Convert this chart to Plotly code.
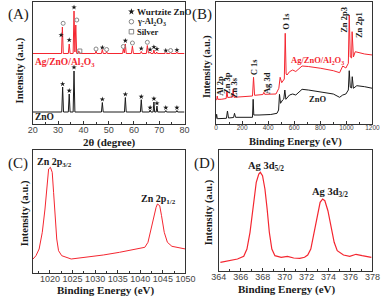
import plotly.graph_objects as go

W, H = 392, 298

# ---------------- Panel A : XRD ----------------
xrd_zno_x = [20, 31.45, 31.8, 32.15, 34.05, 34.4, 34.75, 35.95, 36.3, 36.65, 47.15, 47.5, 47.85,
             56.25, 56.6, 56.95, 62.55, 62.9, 63.25, 66.1, 66.4, 66.7, 67.6, 67.9, 68.2,
             68.8, 69.1, 69.4, 72.3, 72.6, 72.9, 76.7, 77.0, 77.3, 80]
xrd_zno_y = [12, 12, 37, 12, 12, 30, 12, 12, 53, 12, 12, 21.5, 12,
             12, 26.5, 12, 12, 24.3, 12, 12, 14, 12, 12, 22, 12,
             12, 18, 12, 12, 13.5, 12, 12, 13.5, 12, 12]
xrd_ag_x = [20, 31.35, 31.7, 32.05, 34.05, 34.4, 34.75, 35.95, 36.3, 36.65, 37.0, 37.35,
            37.9, 38.2, 38.5, 44.7, 45.0, 45.3, 47.15, 47.5, 47.85, 48.9, 49.2, 49.5,
            55.5, 55.8, 56.2, 56.6, 56.95, 59.0, 59.4, 59.8, 62.55, 62.9, 63.25,
            64.9, 65.3, 65.7, 66.1, 66.4, 66.7, 67.6, 67.9, 68.2, 68.8, 69.0, 69.3,
            72.3, 72.6, 72.9, 74.2, 74.5, 74.8, 76.7, 77.0, 77.3, 80]
xrd_ag_y = [70.5, 70.5, 97, 70.5, 70.5, 80, 70.5, 70.5, 113, 72, 99, 70.5,
            70.5, 73, 70.5, 70.5, 73, 70.5, 70.5, 74.5, 70.5, 70.5, 72.5, 70.5,
            70.5, 75, 71, 80, 70.5, 70.5, 78, 70.5, 70.5, 72.5, 70.5,
            70.5, 78.5, 71, 71, 72, 70.5, 70.5, 74, 70.5, 70.5, 72, 70.5,
            70.5, 71.5, 70.5, 70.5, 71.5, 70.5, 70.5, 72, 70.5, 70.5]
zno_star_x = [31.8, 34.4, 36.3, 47.5, 56.6, 62.9, 66.4, 67.9, 69.1, 72.6, 77.0]
zno_star_y = [40, 33.3, 56.7, 24.7, 29.7, 27.3, 16.3, 25.3, 20.7, 16.3, 16.3]
ag_star_x = [31.2, 34.4, 36.3, 47.5, 56.6, 62.9, 66.4, 67.9, 69.1, 72.6, 77.0]
ag_star_y = [89, 84, 116.7, 76.5, 83.3, 75.5, 74.5, 77, 75, 73.5, 74]
ag_circle_x = [32.0, 37.4, 45.0, 49.2, 55.8, 59.4, 65.3, 74.5]
ag_circle_y = [100.7, 104, 75, 74.5, 77.5, 81, 81.7, 73.5]
ag_square_x = [38.6]
ag_square_y = [73]

# ---------------- Panel B : XPS survey ----------------
b_zno_x = [0, 5, 10, 40, 80, 88, 96, 135, 142, 150, 280, 285, 290, 330, 420,
           468, 480, 487, 495, 511, 520, 528, 536, 564, 588, 612, 660, 708, 804, 900,
           948, 972, 996, 1015, 1022, 1030, 1040, 1045, 1054, 1080, 1140, 1200]
b_zno_y = [5.3, 9.7, 5.3, 5.7, 5.7, 13, 6, 6.5, 10.7, 6.7, 6.7, 24.7, 9, 9, 9.5,
           10.7, 14, 29.7, 20.7, 24, 25, 34, 24.7, 29, 30, 29, 34.7, 34, 32.3, 30,
           26.7, 29, 30, 34, 53.3, 36.7, 36, 47.3, 35.7, 38.3, 37.3, 35.7]
b_ag_x = [0, 6, 10, 14, 40, 78, 84, 90, 126, 132, 138, 200, 280, 288, 296, 360, 367, 374,
          460, 482, 492, 504, 516, 524, 531, 538, 545, 564, 588, 612, 660, 708, 804, 900,
          948, 972, 996, 1015, 1022, 1030, 1040, 1044, 1054, 1068, 1140, 1200]
b_ag_y = [24, 24.5, 28, 24.7, 24.7, 25.5, 33.3, 26.5, 27, 34.7, 26.7, 27, 28, 46.7, 28.7,
          29.5, 31.7, 29.7, 30, 35.7, 46.7, 41.3, 44, 45, 90.7, 50, 49, 52.3, 54, 52.5,
          58, 57.5, 55.7, 53.3, 51.3, 58, 56, 60.7, 109, 67, 66, 92.3, 67, 72.3, 70, 69]

# ---------------- Panel C : Zn 2p ----------------
c_x = [1016.25, 1016.9, 1017.6, 1018.3, 1018.9, 1019.4, 1019.7, 1020.1, 1020.5, 1020.8,
       1021.2, 1021.5, 1021.9, 1022.6, 1024.7, 1028.3, 1031.8, 1035.4, 1038.9, 1041.0,
       1041.7, 1042.4, 1043.0, 1043.5, 1043.8, 1044.3, 1044.7, 1045.3, 1046.0, 1047.0, 1050]
c_y = [14, 17.3, 24, 40.7, 64, 94, 104, 105.7, 100.7, 80.7,
       54, 34, 22.3, 17.3, 14, 15.7, 18, 20.7, 24, 25.7,
       30.7, 44, 57.3, 65.7, 69, 67.3, 57.3, 40.7, 30.7, 26.7, 24]

# ---------------- Panel D : Ag 3d ----------------
d_x = [364.14, 364.85, 365.7, 366.27, 366.56, 366.84, 367.12, 367.41, 367.64, 367.78,
       367.98, 368.2, 368.4, 368.6, 368.83, 369.11, 369.68, 370.25, 370.82, 371.38,
       371.81, 372.1, 372.38, 372.66, 372.95, 373.23, 373.46, 373.66, 373.94, 374.22,
       374.51, 374.79, 375.36, 375.93, 376.5, 377.06, 377.9]
d_y = [8.7, 10.3, 12, 14.7, 22, 38.7, 65.3, 88.7, 97, 98.7,
       95.3, 82, 62, 38.7, 22, 15.3, 13.7, 14.7, 13, 12.7,
       13.7, 16, 22, 38.7, 55.3, 68.7, 72, 70.3, 60.3, 45.3,
       28.7, 20.3, 16, 14.7, 16.7, 15.3, 13.7]

RED = "#f42630"
BLK = "#1a1a1a"
SERIF = "Liberation Serif"
SANS = "Liberation Sans"


def px(x, y):
    return x / W, 1 - y / H


fig = go.Figure()

# Panel A traces
fig.add_trace(go.Scatter(x=xrd_zno_x, y=xrd_zno_y, mode="lines", line=dict(color=BLK, width=1),
                         xaxis="x", yaxis="y"))
fig.add_trace(go.Scatter(x=xrd_ag_x, y=xrd_ag_y, mode="lines", line=dict(color=RED, width=1),
                         xaxis="x", yaxis="y"))
fig.add_trace(go.Scatter(x=zno_star_x + ag_star_x, y=zno_star_y + ag_star_y, mode="markers",
                         marker=dict(symbol="star", size=4, color=BLK), xaxis="x", yaxis="y"))
fig.add_trace(go.Scatter(x=ag_circle_x, y=ag_circle_y, mode="markers",
                         marker=dict(symbol="circle-open", size=4, color="#888", line=dict(width=1)),
                         xaxis="x", yaxis="y"))
fig.add_trace(go.Scatter(x=ag_square_x, y=ag_square_y, mode="markers",
                         marker=dict(symbol="square-open", size=4, color="#888", line=dict(width=1)),
                         xaxis="x", yaxis="y"))
# legend symbols (panel A, axis coords)
fig.add_trace(go.Scatter(x=[59.0], y=[112.3], mode="markers",
                         marker=dict(symbol="star", size=5, color=BLK), xaxis="x", yaxis="y"))
fig.add_trace(go.Scatter(x=[59.0], y=[102.3], mode="markers",
                         marker=dict(symbol="circle-open", size=4.5, color="#888", line=dict(width=1)),
                         xaxis="x", yaxis="y"))
fig.add_trace(go.Scatter(x=[59.0], y=[92.3], mode="markers",
                         marker=dict(symbol="square-open", size=4.5, color="#888", line=dict(width=1)),
                         xaxis="x", yaxis="y"))

# Panel B
fig.add_trace(go.Scatter(x=b_zno_x, y=b_zno_y, mode="lines", line=dict(color=BLK, width=1),
                         xaxis="x2", yaxis="y2"))
fig.add_trace(go.Scatter(x=b_ag_x, y=b_ag_y, mode="lines", line=dict(color=RED, width=1),
                         xaxis="x2", yaxis="y2"))
# Panel C
fig.add_trace(go.Scatter(x=c_x, y=c_y, mode="lines", line=dict(color=RED, width=1),
                         xaxis="x3", yaxis="y3"))
# Panel D
fig.add_trace(go.Scatter(x=d_x, y=d_y, mode="lines", line=dict(color=RED, width=1.2),
                         xaxis="x4", yaxis="y4"))


def xax(dom, rng, dtick, t0, mdtick, anchor, fsize=9):
    return dict(domain=dom, range=rng, dtick=dtick, tick0=t0, anchor=anchor,
                showline=True, mirror=True, linecolor="#333", linewidth=1,
                ticks="inside", ticklen=3, tickcolor="#333", showgrid=False, zeroline=False,
                ticklabelstandoff=-3,
                tickfont=dict(family=SANS, size=fsize, color="#444"),
                minor=dict(ticks="inside", ticklen=2, dtick=mdtick, tickcolor="#333", showgrid=False))


def yax(dom, rng, anchor):
    return dict(domain=dom, range=rng, anchor=anchor, showline=True, mirror=True,
                linecolor="#333", linewidth=1,
                showticklabels=False, ticks="", showgrid=False, zeroline=False)


def dx(a, b):
    return [a / W, b / W]


def dy(top, bot):
    return [1 - bot / H, 1 - top / H]


fig.update_layout(
    width=W, height=H, margin=dict(l=0, r=0, t=0, b=0),
    paper_bgcolor="white", plot_bgcolor="white", showlegend=False, hovermode=False,
    xaxis=xax(dx(26, 185), [20, 80], 10, 20, 5, "y"),
    yaxis=yax(dy(2, 124), [0, 122], "x"),
    xaxis2=xax(dx(218, 382), [0, 1200], 200, 0, 100, "y2", 6.5),
    yaxis2=yax(dy(2, 124), [0, 122], "x2"),
    xaxis3=xax(dx(26, 186), [1016.2, 1050], 5, 1020, 2.5, "y3"),
    yaxis3=yax(dy(150, 273), [0, 123], "x3"),
    xaxis4=xax(dx(221, 382), [364, 378], 2, 364, 1, "y4"),
    yaxis4=yax(dy(150, 271), [0, 121], "x4"),
)

ann = []


def add(text, x, y, size, color=BLK, bold=True, angle=0, xanchor="center", family=SERIF):
    X, Y = px(x, y)
    t = f"<b>{text}</b>" if bold else text
    ann.append(dict(text=t, x=X, y=Y, xref="paper", yref="paper", showarrow=False,
                    xanchor=xanchor, yanchor="middle", textangle=angle, borderpad=0,
                    font=dict(family=family, size=size, color=color)))


# panel labels
add("(A)", 11, 14, 15, bold=False)
add("(B)", 203, 14, 15, bold=False)
add("(C)", 11, 163, 15, bold=False)
add("(D)", 206, 163, 15, bold=False)
# axis titles
add("Intensity (a.u.)", 13, 70, 10.5, angle=-90)
add("Intensity (a.u.)", 208.5, 66, 10, angle=-90)
add("Intensity (a.u.)", 18, 213, 10.5, angle=-90)
add("Intensity (a.u.)", 211, 212, 10.5, angle=-90)
add("2θ (degree)", 106, 142, 11)
add("Binding Energy (eV)", 301, 142, 10.5)
add("Binding Energy (eV)", 103, 290, 11)
add("Binding Energy (eV)", 292, 289, 11)
# panel A texts
add("Wurtzite ZnO", 134, 12, 9, xanchor="left")
add("γ-Al<sub>2</sub>O<sub>3</sub>", 134, 21.5, 8.5, xanchor="left")
add("Silver", 134, 31.5, 8.5, xanchor="left")
add("Ag/ZnO/Al<sub>2</sub>O<sub>3</sub>", 27, 63, 9.5, color=RED, xanchor="left")
add("ZnO", 27, 117, 9.5, xanchor="left")
# panel B texts
add("Al 2p", 222, 86, 8.5, angle=-90)
add("Zn 3p", 229.5, 83, 8.5, angle=-90)
add("Zn 3s", 237, 88, 8.5, angle=-90)
add("C 1s", 258, 67, 8.5, angle=-90)
add("Ag 3d", 271.5, 83, 8.5, angle=-90)
add("O 1s", 291, 21, 8.5, angle=-90)
add("Zn 2p3", 352, 20, 8.5, angle=-90)
add("Zn 2p1", 368, 25, 8.5, angle=-90)
add("Ag/ZnO/Al<sub>2</sub>O<sub>3</sub>", 324, 61, 8.5, color=RED)
add("ZnO", 324, 99, 8.5)
# panel C / D peak labels
add("Zn 2p<sub>3/2</sub>", 49, 162, 10)
add("Zn 2p<sub>1/2</sub>", 158, 199, 10)
add("Ag 3d<sub>5/2</sub>", 270, 166, 10.5)
add("Ag 3d<sub>3/2</sub>", 337, 192, 10.5)

fig.update_layout(annotations=ann)
fig.write_html("out.html", config={"displayModeBar": False, "staticPlot": True},
               post_script="document.body.style.margin='0';document.body.style.overflow='hidden';")
